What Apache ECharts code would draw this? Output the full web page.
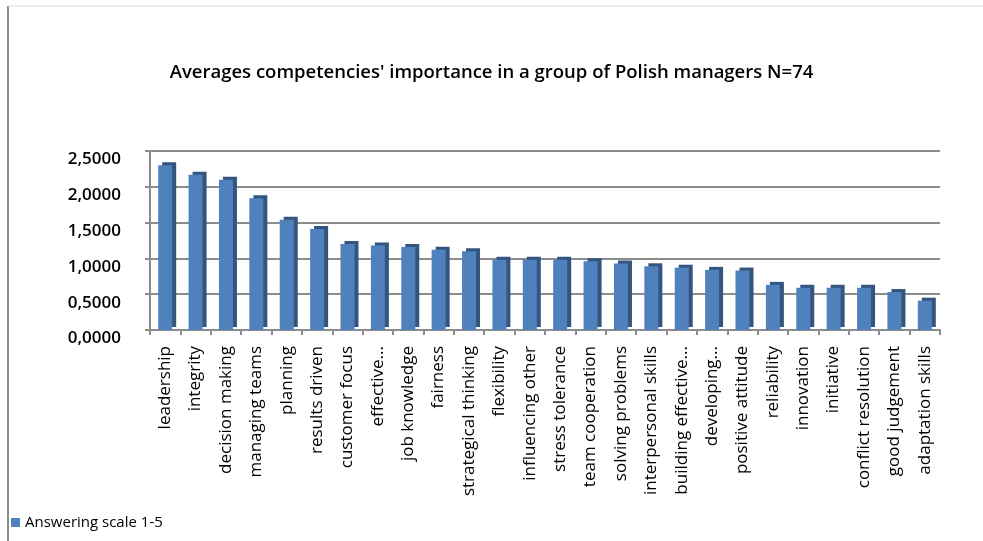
<!DOCTYPE html>
<html>
<head>
<meta charset="utf-8">
<script src="https://cdn.jsdelivr.net/npm/echarts@6/dist/echarts.min.js"></script>
<style>
  html, body { margin: 0; padding: 0; background: #fff; }
  #chart { width: 983px; height: 541px; }
</style>
</head>
<body>
<div id="chart"></div>
<script>
// competencies and their average importance
const categories = [
  'leadership', 'integrity', 'decision making', 'managing teams', 'planning',
  'results driven', 'customer focus', 'effective...', 'job knowledge', 'fairness',
  'strategical thinking', 'flexibility', 'influencing other', 'stress tolerance',
  'team cooperation', 'solving problems', 'interpersonal skills', 'building effective...',
  'developing...', 'positive attitude', 'reliability', 'innovation', 'initiative',
  'conflict resolution', 'good judgement', 'adaptation skills'
]
const averages = [
  2.30, 2.17, 2.10, 1.84, 1.54, 1.41, 1.20, 1.18, 1.16, 1.12,
  1.10, 0.98, 0.98, 0.98, 0.96, 0.93, 0.89, 0.87, 0.84, 0.83,
  0.63, 0.59, 0.59, 0.59, 0.53, 0.41
]
const seriesName = 'Answering scale 1-5'
const yMin = 0
const yMax = 2.5
const yStep = 0.5

const font = 'Open Sans'
const chart = echarts.init(document.getElementById('chart'))

chart.setOption({
  backgroundColor: '#fff',
  animation: false,
  title: {
    text: 'Averages competencies\' importance in a group of Polish managers N=74',
    left: 'center',
    top: 58,
    textStyle: { fontFamily: font, fontSize: 18.5, fontWeight: 600, color: '#000' }
  },
  legend: {
    left: 6,
    bottom: 6,
    itemWidth: 9,
    itemHeight: 9,
    itemGap: 6,
    icon: 'rect',
    textStyle: { fontFamily: font, fontSize: 15, color: '#000' },
    data: [seriesName]
  },
  grid: { left: 150, right: 43, top: 151, bottom: 211 },
  xAxis: {
    type: 'category',
    data: categories,
    axisLine: { lineStyle: { color: '#8c8c8c', width: 2 } },
    axisTick: { show: true, length: 5, lineStyle: { color: '#8c8c8c', width: 2 } },
    axisLabel: {
      rotate: 90,
      interval: 0,
      margin: 16,
      fontFamily: font,
      fontSize: 17,
      color: '#000'
    }
  },
  yAxis: {
    type: 'value',
    min: yMin,
    max: yMax,
    interval: yStep,
    axisLine: { show: true, lineStyle: { color: '#8c8c8c', width: 2 } },
    axisTick: { show: true, length: 5, lineStyle: { color: '#8c8c8c', width: 2 } },
    splitLine: { lineStyle: { color: '#8c8c8c', width: 2 } },
    axisLabel: {
      margin: 29,
      verticalAlign: 'top',
      fontFamily: font,
      fontSize: 17,
      fontWeight: 600,
      color: '#000',
      formatter: v => v.toFixed(4).replace('.', ',')
    }
  },
  series: [{
    name: seriesName,
    type: 'bar',
    data: averages,
    barWidth: 14,
    itemStyle: {
      color: '#4f81bd',
      shadowColor: '#34557f',
      shadowOffsetX: 4,
      shadowOffsetY: -3,
      shadowBlur: 0
    }
  }],
  graphic: [
    // chart area frame
    { type: 'line', shape: { x1: 8, y1: 6, x2: 8, y2: 541 }, style: { stroke: '#8c8c8c', lineWidth: 2 } },
    { type: 'line', shape: { x1: 8, y1: 6, x2: 983, y2: 6 }, style: { stroke: '#d9d9d9', lineWidth: 1 } }
  ]
})
</script>
</body>
</html>
